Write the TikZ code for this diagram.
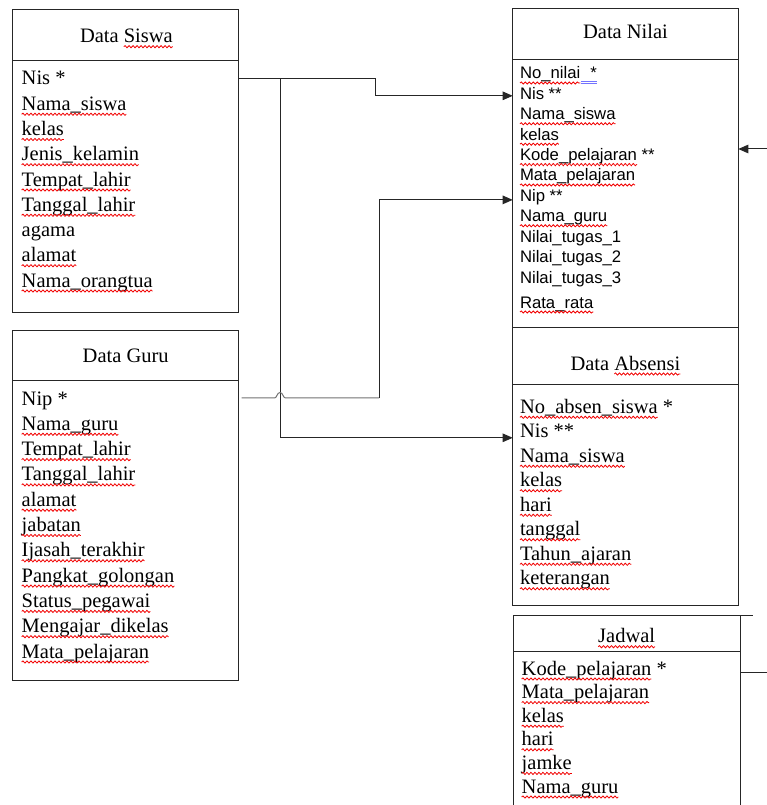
\documentclass[tikz,border=0pt]{standalone}
\usepackage{fontspec}
\setmainfont{Liberation Serif}
\newfontfamily\arialfam{Liberation Sans}
\usetikzlibrary{arrows.meta,calc,decorations.pathmorphing}
\newcommand\serf{\fontsize{20.5}{24}\selectfont}
\newcommand\sanf{\arialfam\fontsize{16.7}{20}\selectfont}
\tikzset{
  box/.style={draw=black!85, line width=1pt, anchor=north west, inner sep=0pt, outer sep=0pt},
  itm/.style={anchor=base west, inner sep=0pt, outer sep=0pt, font=\serf},
  itms/.style={anchor=base west, inner sep=0pt, outer sep=0pt, font=\sanf},
  ttl/.style={anchor=base, inner sep=0pt, outer sep=0pt, font=\serf},
  conn/.style={draw=black!85, line width=1pt},
  arr/.style={conn, -{Triangle[length=10pt,width=8.5pt]}},
  squig/.style={draw=red!95!black, line width=0.8pt, decorate,
    decoration={snake, amplitude=1.1pt, segment length=4pt}},
  dbl/.style={draw=blue!55, line width=0.7pt},
}
\begin{document}
\begin{tikzpicture}[x=1pt,y=-1pt]
\fill[white] (0,0) rectangle (767,805);
\useasboundingbox (0,0) rectangle (767,805);

% ---------- Data Siswa ----------
\node[box, minimum width=226pt, minimum height=302.3pt] (siswa) at (12.7,10) {};
\draw[conn] ($(siswa.north west)+(0,50.3)$) -- ($(siswa.north east)+(0,50.3)$);
\node[itm] (tsiswa1) at (80,42.7) {Data};
\node[itm] (tsiswa2) at ([xshift=5.1pt]tsiswa1.base east) {Siswa};
\node[itm] (s0) at (21.7,85) {Nis *};
\node[itm] (s1) at (21.7,110.25) {Nama\_siswa};
\node[itm] (s2) at (21.7,135.5) {kelas};
\node[itm] (s3) at (21.7,160.75) {Jenis\_kelamin};
\node[itm] (s4) at (21.7,186) {Tempat\_lahir};
\node[itm] (s5) at (21.7,211.25) {Tanggal\_lahir};
\node[itm] (s6) at (21.7,236.5) {agama};
\node[itm] (s7) at (21.7,261.75) {alamat};
\node[itm] (s8) at (21.7,287) {Nama\_orangtua};

% ---------- Data Guru ----------
\node[box, minimum width=226pt, minimum height=350pt] (guru) at (12.7,330) {};
\draw[conn] ($(guru.north west)+(0,50.3)$) -- ($(guru.north east)+(0,50.3)$);
\node[ttl] (tguru) at (125.7,362.7) {Data Guru};
\node[itm] (g0) at (21.7,405) {Nip *};
\node[itm] (g1) at (21.7,430.3) {Nama\_guru};
\node[itm] (g2) at (21.7,455.6) {Tempat\_lahir};
\node[itm] (g3) at (21.7,480.9) {Tanggal\_lahir};
\node[itm] (g4) at (21.7,506.2) {alamat};
\node[itm] (g5) at (21.7,531.5) {jabatan};
\node[itm] (g6) at (21.7,556.8) {Ijasah\_terakhir};
\node[itm] (g7) at (21.7,582.1) {Pangkat\_golongan};
\node[itm] (g8) at (21.7,607.4) {Status\_pegawai};
\node[itm] (g9) at (21.7,632.7) {Mengajar\_dikelas};
\node[itm] (g10) at (21.7,658) {Mata\_pelajaran};

% ---------- Data Nilai ----------
\node[box, minimum width=225.6pt, minimum height=318pt] (nilai) at (512.7,9) {};
\draw[conn] ($(nilai.north west)+(0,50.3)$) -- ($(nilai.north east)+(0,50.3)$);
\node[ttl] (tnilai) at (625.5,39) {Data Nilai};
\node[itms] (n0) at (520,79) {No\_nilai};
\node[itms] (n0s) at ([xshift=10pt]n0.base east) {*};
\node[itms] (n1) at (520,99.4) {Nis **};
\node[itms] (n2) at (520,119.8) {Nama\_siswa};
\node[itms] (n3) at (520,140.2) {kelas};
\node[itms] (n4) at (520,160.6) {Kode\_pelajaran};
\node[itms] (n4s) at ([xshift=4.6pt]n4.base east) {**};
\node[itms] (n5) at (520,181) {Mata\_pelajaran};
\node[itms] (n6) at (520,201.4) {Nip **};
\node[itms] (n7) at (520,221.8) {Nama\_guru};
\node[itms] (n8) at (520,242.2) {Nilai\_tugas\_1};
\node[itms] (n9) at (520,262.6) {Nilai\_tugas\_2};
\node[itms] (n10) at (520,283) {Nilai\_tugas\_3};
\node[itms] (n11) at (520,308) {Rata\_rata};
\draw[dbl] ([shift={(0.5,2.6)}]n0.base east) -- ([shift={(16.5,2.6)}]n0.base east);
\draw[dbl] ([shift={(0.5,4.6)}]n0.base east) -- ([shift={(16.5,4.6)}]n0.base east);

% ---------- Data Absensi ----------
\node[box, minimum width=225.6pt, minimum height=278.3pt] (absensi) at (512.7,327) {};
\draw[conn] ($(absensi.north west)+(0,57)$) -- ($(absensi.north east)+(0,57)$);
\node[itm] (tabs1) at (570.5,370) {Data};
\node[itm] (tabs2) at ([xshift=5.1pt]tabs1.base east) {Absensi};
\node[itm] (a0) at (520,413.3) {No\_absen\_siswa};
\node[itm] (a0s) at ([xshift=5.1pt]a0.base east) {*};
\node[itm] (a1) at (520,437.8) {Nis **};
\node[itm] (a2) at (520,462.3) {Nama\_siswa};
\node[itm] (a3) at (520,486.8) {kelas};
\node[itm] (a4) at (520,511.3) {hari};
\node[itm] (a5) at (520,535.8) {tanggal};
\node[itm] (a6) at (520,560.3) {Tahun\_ajaran};
\node[itm] (a7) at (520,584.8) {keterangan};

% ---------- Jadwal ----------
\node[box, minimum width=226.7pt, minimum height=194pt] (jadwal) at (513.3,615.7) {};
\draw[conn] ($(jadwal.north west)+(0,36)$) -- ($(jadwal.north east)+(0,36)$);
\node[ttl] (tjadwal) at (626.7,642.7) {Jadwal};
\node[itm] (j0) at (521.7,675) {Kode\_pelajaran};
\node[itm] (j0s) at ([xshift=5.1pt]j0.base east) {*};
\node[itm] (j1) at (521.7,698.6) {Mata\_pelajaran};
\node[itm] (j2) at (521.7,722.2) {kelas};
\node[itm] (j3) at (521.7,745.8) {hari};
\node[itm] (j4) at (521.7,769.4) {jamke};
\node[itm] (j5) at (521.7,793) {Nama\_guru};

% ---------- spelling squiggles ----------
\foreach \n in {tsiswa2,s1,s2,s3,s4,s5,s7,s8,g1,g2,g3,g4,g5,g6,g7,g8,g9,g10,
                n0,n2,n3,n4,n5,n7,n11,tabs2,a0,a2,a3,a4,a5,a6,a7,
                tjadwal,j0,j1,j2,j3,j4,j5}
  \draw[squig] ([yshift=-4pt]\n.base west) -- ([yshift=-4pt]\n.base east);

% ---------- connectors ----------
\coordinate (jx1) at (375,0);
\coordinate (jx2) at (280,0);
\coordinate (jx3) at (379,0);
\coordinate (n1w) at ([yshift=-2.4pt]n1.west);
\coordinate (n6w) at ([yshift=-2.8pt]n6.west);
\coordinate (gy) at ([yshift=2.4pt]g0.west);

\draw[arr] (siswa.east |- s0) -| (jx1 |- n1w) -- (nilai.west |- n1w);
\draw[arr] (jx2 |- s0) |- (absensi.west |- a1.base);

\draw[conn, draw=black!55] ($(guru.east |- gy)+(3,0)$) -- ($(jx2 |- gy)+(-5.5,0)$)
  .. controls ($(jx2 |- gy)+(-3,0)$) and ($(jx2 |- gy)+(-3,-5.5)$) .. ($(jx2 |- gy)+(0,-5.5)$)
  .. controls ($(jx2 |- gy)+(3,-5.5)$) and ($(jx2 |- gy)+(3,0)$) .. ($(jx2 |- gy)+(5.5,0)$)
  -- (jx3 |- gy);
\draw[arr] (jx3 |- gy) |- (nilai.west |- n6w);

\coordinate (rin) at (767,149);
\draw[arr] (rin) -- (nilai.east |- rin);
\coordinate (rtop) at (753,0);
\draw[conn] (jadwal.north east) -- (rtop |- jadwal.north east);
\coordinate (rstub) at (767,672);
\draw[conn] (jadwal.east |- rstub) -- (rstub);
\end{tikzpicture}
\end{document}
